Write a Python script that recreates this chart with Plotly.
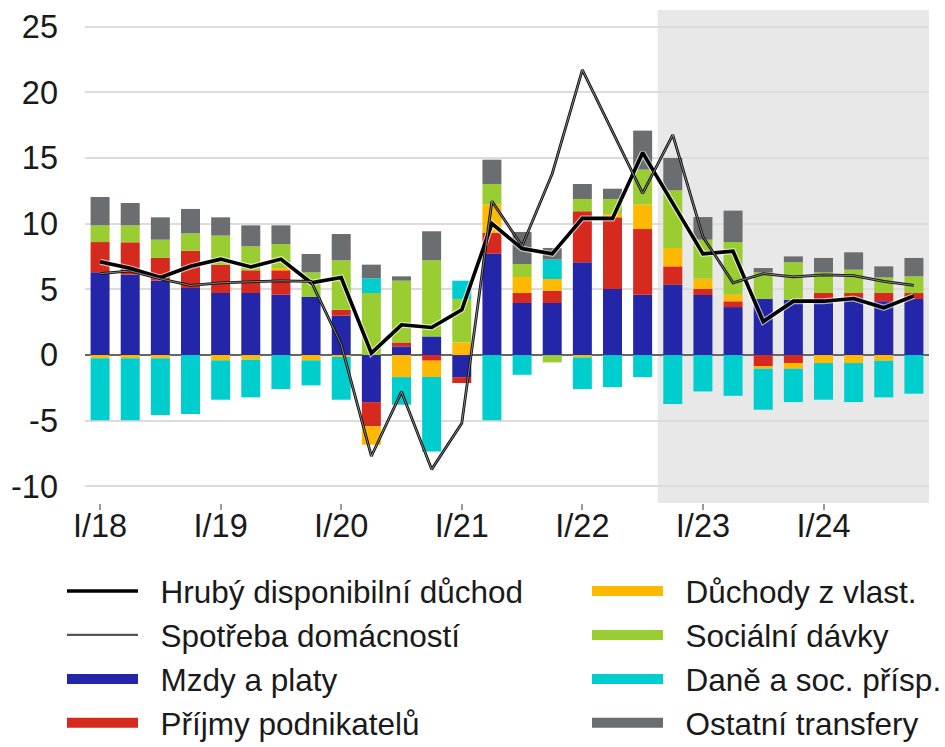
import plotly.graph_objects as go

quarters = ["I/18", "II/18", "III/18", "IV/18",
            "I/19", "II/19", "III/19", "IV/19",
            "I/20", "II/20", "III/20", "IV/20",
            "I/21", "II/21", "III/21", "IV/21",
            "I/22", "II/22", "III/22", "IV/22",
            "I/23", "II/23", "III/23", "IV/23",
            "I/24", "II/24", "III/24", "IV/24"]

mzdy = [6.30, 6.12, 5.66, 5.10, 4.72, 4.72, 4.59, 4.42,
        3.00, -3.58, 0.66, 1.42, -1.68, 7.72, 3.96, 3.96,
        7.06, 5.03, 4.59, 5.36, 4.57, 3.65, 4.26, 4.21,
        4.26, 4.39, 4.09, 4.26]
prijmy = [2.30, 2.46, 1.73, 2.84, 2.16, 1.73, 1.86, 0.00,
          0.45, -1.85, 0.30, -0.43, -0.45, 1.57, 0.76, 0.94,
          3.88, 5.45, 5.00, 1.39, 0.46, 0.44, -0.86, -0.61,
          0.46, 0.33, 0.63, 0.46]
duchody_vlast = [-0.25, -0.25, -0.25, 0.00, -0.40, -0.35, 0.17, -0.40,
                 -0.15, -1.40, -1.68, -1.25, 0.96, 2.16, 1.22, 0.89,
                 -0.18, 0.26, 1.86, 1.40, 0.78, 0.50, -0.18, -0.43,
                 -0.61, -0.61, -0.43, 0.00]
socialni = [1.27, 1.29, 1.39, 1.32, 2.21, 1.82, 1.83, 1.87,
            3.76, 4.72, 4.70, 5.79, 3.30, 1.57, 0.99, -0.56,
            0.94, 1.14, 2.66, 4.39, 2.97, 4.01, 2.03, 2.85,
            1.57, 1.78, 1.19, 1.27]
dane = [-4.72, -4.72, -4.32, -4.49, -3.00, -2.87, -2.59, -1.91,
        -3.25, 1.12, -2.10, -5.66, 1.40, -4.97, -1.50, 1.47,
        -2.41, -2.44, -1.68, -3.73, -2.77, -3.10, -3.12, -2.54,
        -2.79, -2.97, -2.79, -2.94]
ostatni = [2.16, 1.70, 1.70, 1.86, 1.39, 1.60, 1.42, 1.40,
           2.00, 1.04, 0.33, 2.21, 0.00, 1.85, 2.44, 0.89,
           1.14, 0.78, 2.97, 2.46, 1.72, 2.39, 0.33, 0.45,
           1.10, 1.32, 0.84, 1.40]
hdd = [7.1, 6.6, 5.9, 6.75, 7.3, 6.7, 7.3, 5.5,
       5.9, 0.15, 2.3, 2.1, 3.45, 10.0, 8.1, 7.7,
       10.4, 10.4, 15.4, 11.6, 7.7, 7.9, 2.55, 4.1,
       4.1, 4.3, 3.6, 4.5]
spotreba = [6.2, 6.4, 5.8, 5.3, 5.5, 5.55, 5.65, 5.6,
            0.8, -7.7, -2.8, -8.7, -5.2, 11.7, 8.3, 13.8,
            21.7, 17.0, 12.3, 16.75, 9.0, 5.5, 6.2, 5.95,
            6.1, 6.05, 5.6, 5.3]

x_tick_vals = ["I/18", "I/19", "I/20", "I/21", "I/22", "I/23", "I/24"]
x_tick_text = ["I/18", "I/19", "I/20", "I/21", "I/22", "I/23", "I/24"]
y_tick_vals = [-10, -5, 0, 5, 10, 15, 20, 25]
y_tick_text = ["-10", "-5", "0", "5", "10", "15", "20", "25"]
forecast_start = "IV/22"

FONT = "Liberation Sans, Arial, sans-serif"
TXT = "#1a1a1a"
PAD = "\u00a0\u00a0"

# (name, values, colour, legend, rank)
bar_series = [
    ("Mzdy a platy", mzdy, "#2326a8", "legend", 3),
    ("Příjmy podnikatelů", prijmy, "#d62a1e", "legend", 4),
    ("Důchody z vlast.", duchody_vlast, "#ffb900", "legend2", 1),
    ("Sociální dávky", socialni, "#9acd32", "legend2", 2),
    ("Daně a soc. přísp.", dane, "#00cdcd", "legend2", 3),
    ("Ostatní transfery", ostatni, "#6b6e70", "legend2", 4),
]

fig = go.Figure()
for name, vals, color, leg, rank in bar_series:
    fig.add_trace(go.Bar(x=quarters, y=vals, name=name, marker_color=color,
                         marker_line_width=0, showlegend=False))

# Hrubý disponibilní důchod (thick black, light halo)
fig.add_trace(go.Scatter(x=quarters, y=hdd, mode="lines", showlegend=False,
                         line=dict(color="rgba(255,255,255,0.6)", width=6), hoverinfo="skip"))
fig.add_trace(go.Scatter(x=quarters, y=hdd, mode="lines", name=PAD + "Hrubý disponibilní důchod",
                         line=dict(color="#000000", width=3.6), legend="legend",
                         legendrank=1, legendgroup="g1"))
# Spotřeba domácností (thin black outline with light core)
fig.add_trace(go.Scatter(x=quarters, y=spotreba, mode="lines", showlegend=False,
                         line=dict(color="#111111", width=2.8)))
fig.add_trace(go.Scatter(x=quarters, y=spotreba, mode="lines", showlegend=False,
                         line=dict(color="rgba(255,255,255,0.6)", width=0.8), hoverinfo="skip"))
fig.add_trace(go.Scatter(x=[None], y=[None], mode="lines", name=PAD + "Spotřeba domácností",
                         line=dict(color="#555555", width=2.2), legend="legend",
                         legendrank=2, legendgroup="g2"))

# legend swatches for the bar series
for name, vals, color, leg, rank in bar_series:
    fig.add_trace(go.Scatter(x=[None], y=[None], mode="lines", name=PAD + name,
                             line=dict(color=color, width=21), legend=leg,
                             legendrank=rank, legendgroup=name))

x0 = quarters.index(forecast_start) - 0.5
x1 = len(quarters) - 0.5
fig.add_shape(type="rect", xref="x", yref="paper", x0=x0, x1=x1, y0=0, y1=1,
              fillcolor="#e8e8e8", line_width=0, layer="below")

leg_common = dict(orientation="v", xref="container", yref="container",
                  yanchor="top", xanchor="left", traceorder="normal",
                  font=dict(family=FONT, size=31.5, color=TXT),
                  itemwidth=71, tracegroupgap=6, bgcolor="rgba(0,0,0,0)")

fig.update_layout(
    width=945, height=747,
    margin=dict(l=85, r=16, t=10, b=244, autoexpand=False),
    paper_bgcolor="white", plot_bgcolor="white",
    barmode="relative", bargap=0.37,
    font=dict(family=FONT, size=32, color=TXT),
    showlegend=True,
    legend=dict(x=62 / 945, y=1 - 564 / 747, **leg_common),
    legend2=dict(x=587 / 945, y=1 - 564 / 747, **leg_common),
)
fig.update_xaxes(type="category", categoryorder="array", categoryarray=quarters,
                 range=[-0.5, len(quarters) - 0.5],
                 tickmode="array", tickvals=x_tick_vals, ticktext=x_tick_text,
                 ticks="outside", ticklen=6, tickwidth=1.5, tickcolor="#999999",
                 ticklabelstandoff=-12,
                 showgrid=False, showline=False, zeroline=False,
                 tickfont=dict(family=FONT, size=32.5, color=TXT))
fig.update_yaxes(range=[-11.26, 26.26], tickmode="array", tickvals=y_tick_vals,
                 ticktext=y_tick_text, showgrid=True, gridcolor="#dcdcdc", gridwidth=2,
                 zeroline=True, zerolinecolor="#666666", zerolinewidth=2,
                 showline=False, ticks="", ticklabelstandoff=26,
                 tickfont=dict(family=FONT, size=32.5, color=TXT))

fig.write_html("out.html", config={"displayModeBar": False},
               post_script="document.body.style.margin='0';")
